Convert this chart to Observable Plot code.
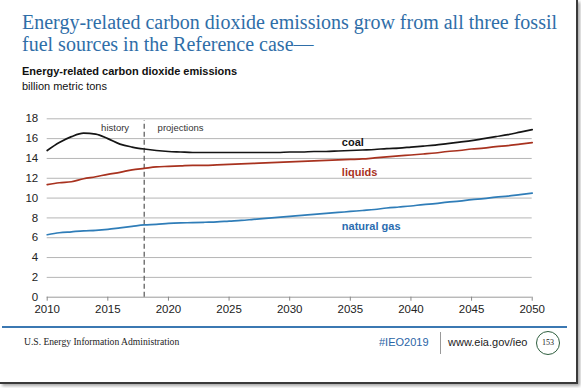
<!DOCTYPE html>
<html>
<head>
<meta charset="utf-8">
<script src="https://cdn.jsdelivr.net/npm/d3@7"></script>
<script src="https://cdn.jsdelivr.net/npm/@observablehq/plot@0.6"></script>
<style>
  html, body { margin: 0; padding: 0; background: #fff; }
  #page { position: relative; width: 581px; height: 388px; overflow: hidden; background: #fff; }
  #frame { position: absolute; left: 0; top: 0; width: 576px; height: 382px; border-right: 2px solid #3a3a3a; border-bottom: 2px solid #3a3a3a; box-shadow: 2px 2px 3px rgba(0,0,0,0.35); }
  .abs { position: absolute; white-space: nowrap; }
  #title { left: 22px; top: 11px; font-family: "Liberation Serif", "Times New Roman", serif; font-size: 20px; line-height: 22px; color: #2f6ea8; }
  #sub1 { left: 22px; top: 65px; font-family: "Liberation Sans", Arial, sans-serif; font-size: 11px; font-weight: bold; color: #111; }
  #sub2 { left: 22px; top: 80px; font-family: "Liberation Sans", Arial, sans-serif; font-size: 11px; color: #111; }
  #chart { position: absolute; left: 0; top: 100px; }
  #rule { position: absolute; left: 2px; top: 325.5px; width: 565px; height: 2px; background: #3b78b2; }
  #eia { left: 24px; top: 336px; font-family: "Liberation Serif", "Times New Roman", serif; font-size: 9.6px; color: #222; }
  #tag { left: 379px; top: 336px; font-family: "Liberation Sans", Arial, sans-serif; font-size: 11px; color: #2a64a6; }
  #sep { position: absolute; left: 440px; top: 332px; width: 1px; height: 22px; background: #999; }
  #url { left: 448px; top: 336px; font-family: "Liberation Sans", Arial, sans-serif; font-size: 11px; color: #222; }
  #pg { position: absolute; left: 536px; top: 331px; width: 22px; height: 22px; border: 1px solid #2e5e3e; border-radius: 50%; font-family: "Liberation Serif", serif; font-size: 8px; line-height: 22px; text-align: center; color: #222; }
</style>
</head>
<body>
<div id="page">
  <div id="frame"></div>
  <div id="title" class="abs">Energy-related carbon dioxide emissions grow from all three fossil<br>fuel sources in the Reference case—</div>
  <div id="sub1" class="abs">Energy-related carbon dioxide emissions</div>
  <div id="sub2" class="abs">billion metric tons</div>
  <div id="chart"></div>
  <div id="rule"></div>
  <div id="eia" class="abs">U.S. Energy Information Administration</div>
  <div id="tag" class="abs">#IEO2019</div>
  <div id="sep"></div>
  <div id="url" class="abs">www.eia.gov/ieo</div>
  <div id="pg">153</div>
</div>
<script>
const years = d3.range(2010, 2051);
const coal = [14.8, 15.6, 16.2, 16.55, 16.45, 16.0, 15.45, 15.15, 14.95, 14.8,
  14.7, 14.65, 14.6, 14.6, 14.6, 14.6, 14.6, 14.6, 14.6, 14.6,
  14.65, 14.65, 14.7, 14.7, 14.75, 14.8, 14.85, 14.9, 15.0, 15.05,
  15.15, 15.25, 15.35, 15.5, 15.65, 15.8, 16.0, 16.2, 16.4, 16.65, 16.9];
const liquids = [11.35, 11.55, 11.65, 11.95, 12.15, 12.4, 12.6, 12.85, 13.0, 13.15,
  13.2, 13.25, 13.3, 13.3, 13.35, 13.4, 13.45, 13.5, 13.55, 13.6,
  13.65, 13.7, 13.75, 13.8, 13.85, 13.9, 13.95, 14.05, 14.15, 14.25,
  14.35, 14.45, 14.55, 14.7, 14.8, 14.95, 15.05, 15.2, 15.3, 15.45, 15.6];
const naturalGas = [6.3, 6.5, 6.6, 6.7, 6.75, 6.85, 7.0, 7.15, 7.3, 7.35,
  7.45, 7.5, 7.52, 7.56, 7.6, 7.68, 7.75, 7.85, 7.95, 8.05,
  8.15, 8.25, 8.35, 8.45, 8.55, 8.65, 8.75, 8.85, 9.0, 9.1,
  9.2, 9.35, 9.45, 9.6, 9.7, 9.85, 9.95, 10.1, 10.2, 10.35, 10.5];
const yTicks = [0, 2, 4, 6, 8, 10, 12, 14, 16, 18];
const xTicks = [2010, 2015, 2020, 2025, 2030, 2035, 2040, 2045, 2050];
const projectionStart = 2018;
const seriesNames = ["coal", "liquids", "natural gas"];
const seriesColors = ["#151515", "#a8321f", "#2f7db8"];
const labelColors = ["#151515", "#a8321f", "#2a6cb0"];
const seriesLabelPos = [[2034.3, 15.6], [2034.3, 12.55], [2034.3, 7.1]];
const periodLabels = [{x: 2015.6, y: 17.1, text: "history"}, {x: 2021, y: 17.1, text: "projections"}];

const series = [coal, liquids, naturalGas];
const rows = series.flatMap((vals, i) => vals.map((v, j) => ({year: years[j], value: v, name: seriesNames[i]})));
const labels = seriesNames.map((n, i) => ({name: n, x: seriesLabelPos[i][0], y: seriesLabelPos[i][1], color: labelColors[i]}));

const chart = Plot.plot({
  width: 581,
  height: 225,
  marginLeft: 46.7,
  marginRight: 49.3,
  marginTop: 18.3,
  marginBottom: 28.3,
  style: {fontFamily: "'Liberation Sans', Arial, sans-serif", fontSize: "11px", color: "#222", background: "transparent"},
  x: {domain: [2010, 2050]},
  y: {domain: [0, 18]},
  color: {domain: seriesNames, range: seriesColors},
  marks: [
    Plot.ruleY(yTicks.filter(d => d > 0), {stroke: "#b5b5b5", strokeWidth: 1}),
    Plot.ruleY([0], {stroke: "#9a9a9a", strokeWidth: 1}),
    Plot.axisY({ticks: yTicks, tickSize: 0, tickPadding: 9, tickFormat: d => d, label: null, fontSize: 11.5, fill: "#222"}),
    Plot.axisX({ticks: xTicks, tickSize: 4, tickPadding: 4, tickFormat: d => String(d), label: null, fontSize: 11.5, stroke: "#888", fill: "#222"}),
    Plot.ruleX([projectionStart], {y1: 0, y2: 17.8, stroke: "#555", strokeWidth: 1.2, strokeDasharray: "5,3"}),
    Plot.line(rows, {x: "year", y: "value", z: "name", stroke: "name", strokeWidth: 1.7, curve: "monotone-x"}),
    Plot.text(periodLabels, {x: "x", y: "y", text: "text", fontSize: 9.5, fill: "#333"}),
    Plot.text(labels, {x: "x", y: "y", text: "name", fill: "color", fontWeight: "bold", fontSize: 11, textAnchor: "start"})
  ]
});
document.getElementById("chart").appendChild(chart);
</script>
</body>
</html>
